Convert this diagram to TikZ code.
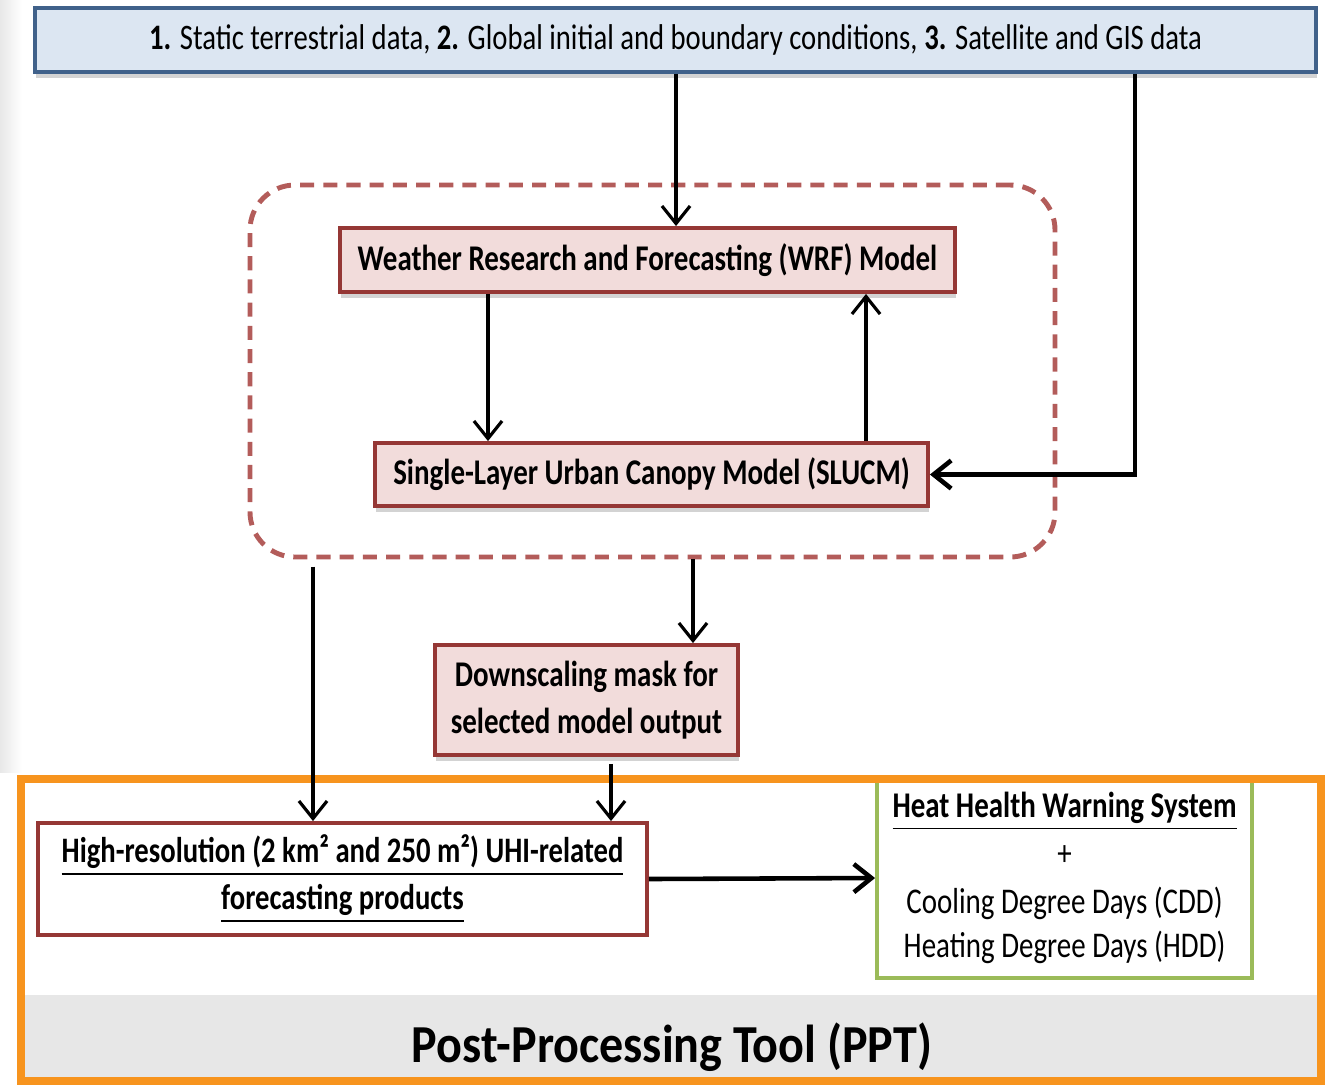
\documentclass[tikz,border=0pt]{standalone}
\usepackage{fontspec}
\setmainfont{Carlito}[FakeStretch=0.8]
\newfontfamily\titlefont{Carlito}[FakeStretch=0.9]
\usepackage{tikz}
\usetikzlibrary{arrows.meta, positioning, shadows, calc}

\definecolor{inputfill}{HTML}{DCE6F2}
\definecolor{inputline}{HTML}{40618A}
\definecolor{modelfill}{HTML}{F2DCDB}
\definecolor{modelline}{HTML}{953735}
\definecolor{coupleline}{HTML}{B35C5A}
\definecolor{hhwsline}{HTML}{9BBB59}
\definecolor{pptline}{HTML}{F7941E}
\definecolor{pptband}{HTML}{E7E7E7}

\begin{document}
\begin{tikzpicture}[
  box/.style={draw=modelline, line width=1.1pt, fill=modelfill, align=center, inner sep=0pt,
    font=\bfseries\fontsize{10.3}{12.4}\selectfont,
    drop shadow={shadow xshift=0.4pt, shadow yshift=-1.8pt, opacity=0.35}},
  inbox/.style={draw=inputline, line width=1.1pt, fill=inputfill, align=center, inner sep=0pt,
    font=\fontsize{10.2}{12}\selectfont,
    drop shadow={shadow xshift=0.4pt, shadow yshift=-1.8pt, opacity=0.35}},
  outbox/.style={draw=modelline, line width=1.1pt, fill=white, align=center, inner sep=0pt,
    font=\bfseries\fontsize{10.2}{12.4}\selectfont},
  hhwsbox/.style={draw=hhwsline, line width=1.1pt, fill=white, align=center, inner sep=0pt,
    font=\fontsize{10.3}{12.6}\selectfont},
  coupled/.style={draw=coupleline, line width=1.4pt, dash pattern=on 4pt off 2.6pt, rounded corners=0.45cm,
    inner sep=0pt},
  arrow/.style={-{Straight Barb[length=5pt, width=8pt]}, line width=0.9pt},
  bigarrow/.style={-{Straight Barb[length=5pt, width=8pt]}, line width=1.3pt},
]
\useasboundingbox (0,0) rectangle (13.29,-10.88);

% page background
\shade[left color=gray!18, right color=white] (0,0) rectangle (0.22,-7.72);
\fill[pptband] (0.21,-9.95) rectangle (13.21,-10.81);

% Inputs
\node[inbox, minimum width=12.81cm, minimum height=0.64cm] (input) at (6.755,-0.40)
  {\textbf{1.} Static terrestrial data, \textbf{2.} Global initial and boundary conditions, \textbf{3.} Satellite and GIS data};

% Coupled model
\node[coupled, minimum width=8.05cm, minimum height=3.72cm] (coupling) at (6.525,-3.71) {};
\node[box, minimum width=6.15cm, minimum height=0.64cm] (wrf) at (6.475,-2.60)
  {Weather Research and Forecasting (WRF) Model};
\node[box, minimum width=5.53cm, minimum height=0.63cm] (slucm) at (6.515,-4.745)
  {Single-Layer Urban Canopy Model (SLUCM)};

% Downscaling
\node[box, minimum width=3.03cm, minimum height=1.10cm] (mask) at (5.865,-7.00)
  {Downscaling mask for\\[1pt] selected model output};

% Post-processing
\node[outbox, minimum width=6.09cm, minimum height=1.12cm] (products) at (3.425,-8.79)
  {\underline{High-resolution (2 km² and 250 m²) UHI-related}\\[1pt]
   \underline{forecasting products}};
\node[hhwsbox, minimum width=3.75cm, minimum height=2.00cm] (hhws) at (10.645,-8.78)
  {\textbf{\underline{Heat Health Warning System}}\\[1pt] +\\[1pt] Cooling Degree Days (CDD)\\ Heating Degree Days (HDD)};
\node[font=\titlefont\bfseries\fontsize{15.2}{18}\selectfont] (ppt) at (6.72,-10.47) {Post-Processing Tool (PPT)};
\draw[pptline, line width=2.4pt] (0.21,-7.79) rectangle (13.21,-10.81);

% free ends of the vertical connectors
\coordinate (xin) at (6.76,0);
\coordinate (xsat) at (11.35,0);
\coordinate (xdown) at (4.88,0);
\coordinate (xup) at (8.66,0);
\coordinate (xleft) at (3.13,0);
\coordinate (xmask) at (6.93,0);
\coordinate (xmerge) at (6.11,0);

% Arrows
\draw[arrow] (input.south -| xin) -- (wrf.north -| xin);
\draw[bigarrow] (input.south -| xsat) |- (slucm.east);
\draw[arrow] (wrf.south -| xdown) -- (slucm.north -| xdown);
\draw[arrow] (slucm.north -| xup) -- (wrf.south -| xup);
\draw[arrow, shorten <=2pt] (coupling.south -| xleft) -- (products.north -| xleft);
\draw[arrow] (coupling.south -| xmask) -- (mask.north -| xmask);
\draw[arrow, shorten <=2pt] (mask.south -| xmerge) -- (products.north -| xmerge);
\draw[bigarrow] (products.east) -- (hhws.west);

\end{tikzpicture}
\end{document}
